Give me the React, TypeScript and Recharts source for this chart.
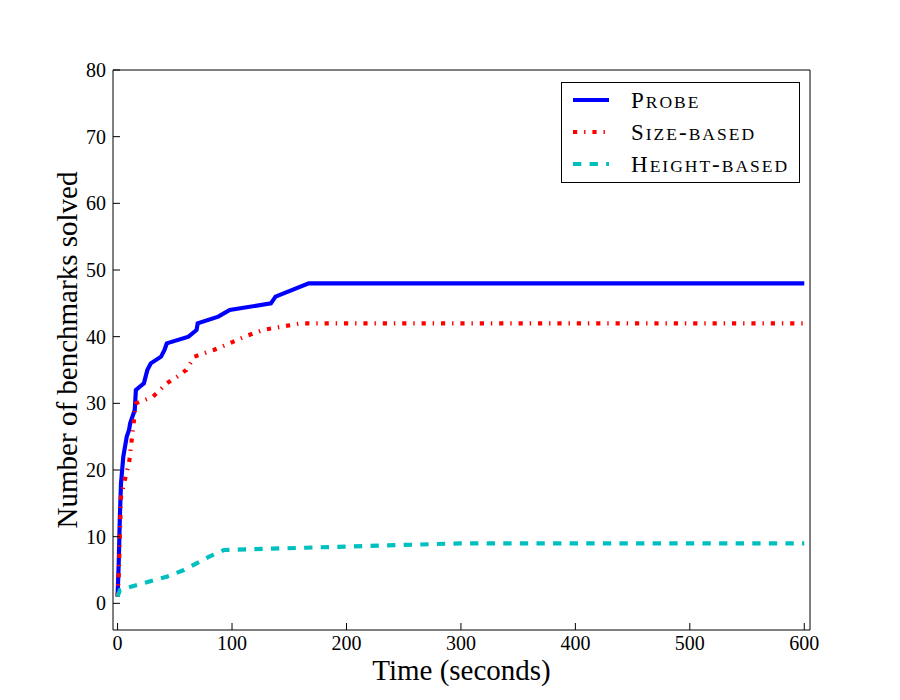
import { LineChart, Line, XAxis, YAxis, Legend } from "recharts";

const FONT = "'Liberation Serif', 'DejaVu Serif', serif";

// time (s) at which each count of solved benchmarks was reached
const probeTimes = [0, 1, 2, 3, 5, 6, 8, 10, 11, 13, 15, 16, 23, 26, 29, 38, 41, 43, 62, 69, 70, 88, 98, 134, 138, 167, 600];
const probeSolved = [1, 6, 13, 18, 22, 23, 25, 26, 27, 28, 29, 32, 33, 35, 36, 37, 38, 39, 40, 41, 42, 43, 44, 45, 46, 48, 48];

const sizeTimes = [0, 1, 2, 3, 7, 10, 12, 14, 16, 31, 43, 52, 60, 67, 84, 98, 111, 127, 160, 600];
const sizeSolved = [1, 4, 10, 16, 19, 21, 24, 27, 30, 31, 33, 34, 35, 37, 38, 39, 40, 41, 42, 42];

const heightTimes = [0, 2, 22, 43, 58, 69, 80, 93, 300, 600];
const heightSolved = [1, 2, 3, 4, 5, 6, 7, 8, 9, 9];

const xTicks = [0, 100, 200, 300, 400, 500, 600];
const yTicks = [0, 10, 20, 30, 40, 50, 60, 70, 80];

const zip = (times: number[], solved: number[]) =>
  times.map((t, i) => ({ t, solved: solved[i] }));

const series = [
  { name: "Probe", data: zip(probeTimes, probeSolved), color: "#0000ff", dash: undefined },
  { name: "Size-based", data: zip(sizeTimes, sizeSolved), color: "#ff0000", dash: "4.2 6.9 1.4 6.9" },
  { name: "Height-based", data: zip(heightTimes, heightSolved), color: "#00bfbf", dash: "8.3 8.3" },
];

// lowercase letters drawn as smaller capitals
const SmallCaps = ({ text }: { text: string }) => {
  const parts = text.match(/[a-z]+|[^a-z]+/g) || [];
  return (
    <>
      {parts.map((p, i) =>
        /[a-z]/.test(p) ? (
          <span key={i} style={{ fontSize: 17.5 }}>
            {p.toUpperCase()}
          </span>
        ) : (
          <span key={i}>{p}</span>
        )
      )}
    </>
  );
};

const renderLegend = (props: any) => {
  const payload: any[] = props.payload || [];
  return (
    <div
      style={{
        boxSizing: "border-box",
        width: 239,
        height: 101,
        border: "1px solid #000",
        background: "#fff",
        paddingTop: 1,
        fontFamily: FONT,
        color: "#000",
      }}
    >
      {series.map((s) => {
        const entry = payload.find((p) => p.value === s.name);
        return (
          <div key={s.name} style={{ display: "flex", alignItems: "center", height: 32 }}>
            <svg width={36} height={8} style={{ marginLeft: 11 }}>
              <line
                x1={0}
                y1={4}
                x2={36}
                y2={4}
                stroke={entry ? entry.color : s.color}
                strokeWidth={4.17}
                strokeDasharray={s.dash}
              />
            </svg>
            <span style={{ marginLeft: 22, fontSize: 23, letterSpacing: 2, lineHeight: 1 }}>
              <SmallCaps text={s.name} />
            </span>
          </div>
        );
      })}
    </div>
  );
};

export default function App() {
  return (
    <div style={{ position: "absolute", left: 0, top: 0, background: "#fff" }}>
      <LineChart
        width={900}
        height={700}
        margin={{ top: 60, right: 80, bottom: 0, left: 20 }}
        style={{ fontFamily: FONT }}
      >
        <XAxis
          xAxisId="bottom"
          type="number"
          dataKey="t"
          domain={[-4, 605]}
          ticks={xTicks}
          allowDataOverflow
          height={70}
          tickSize={-7}
          tickMargin={13}
          stroke="#000"
          tick={{ fill: "#000", fontSize: 20 }}
          label={{ value: "Time (seconds)", position: "insideBottom", offset: 20, fill: "#000", fontSize: 29 }}
        />
        <XAxis
          xAxisId="top"
          orientation="top"
          type="number"
          domain={[-4, 605]}
          ticks={xTicks}
          allowDataOverflow
          height={10}
          tickSize={-7}
          tick={false}
          stroke="#000"
        />
        <YAxis
          yAxisId="left"
          type="number"
          domain={[-4, 80]}
          ticks={yTicks}
          allowDataOverflow
          width={93}
          tickSize={-7}
          tickMargin={14}
          stroke="#000"
          tick={{ fill: "#000", fontSize: 20 }}
          label={{ value: "Number of benchmarks solved", angle: -90, position: "center", fill: "#000", fontSize: 29 }}
        />
        <YAxis
          yAxisId="right"
          orientation="right"
          type="number"
          domain={[-4, 80]}
          ticks={yTicks}
          allowDataOverflow
          width={10}
          tickSize={-7}
          tick={false}
          stroke="#000"
        />
        <Legend
          layout="vertical"
          align="center"
          verticalAlign="middle"
          content={renderLegend}
          wrapperStyle={{ left: 561, top: 82, width: 239, height: 101 }}
        />
        {series.map((s) => (
          <Line
            key={s.name}
            name={s.name}
            xAxisId="bottom"
            yAxisId="left"
            data={s.data}
            dataKey="solved"
            type="linear"
            stroke={s.color}
            strokeWidth={4.17}
            strokeDasharray={s.dash}
            dot={false}
            activeDot={false}
            isAnimationActive={false}
          />
        ))}
      </LineChart>
    </div>
  );
}
